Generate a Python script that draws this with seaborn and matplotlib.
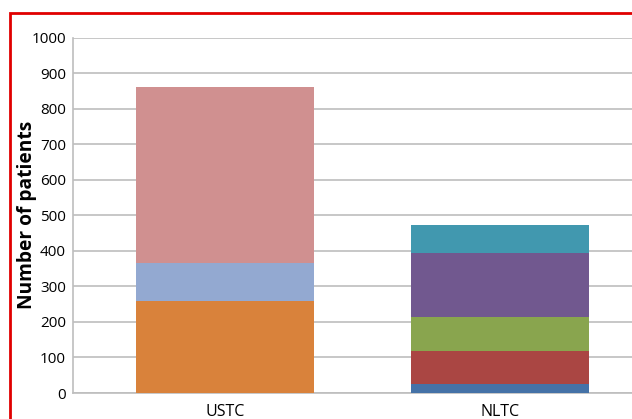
import matplotlib
matplotlib.use('Agg')
import matplotlib.pyplot as plt
import seaborn as sns
from matplotlib.patches import Rectangle

categories = ['USTC', 'NLTC']
ustc_vals = [258, 108, 495]
ustc_colors = ['#D9823B', '#93A9D1', '#D09090']
nltc_vals = [25, 94, 96, 178, 79]
nltc_colors = ['#4572A7', '#AA4643', '#89A54E', '#71588F', '#4198AF']

sns.set_style('white')
plt.rcParams['font.family'] = ['Open Sans', 'DejaVu Sans']

fig = plt.figure(figsize=(6.32, 4.19), dpi=100)
ax = fig.add_axes([73 / 632, 1 - 393 / 419, 1 - 73 / 632, (393 - 37.7) / 419])

# stacked segments, one barplot call per segment
for cat, vals, cols in [('USTC', ustc_vals, ustc_colors), ('NLTC', nltc_vals, nltc_colors)]:
    bottom = 0
    for v, c in zip(vals, cols):
        sns.barplot(x=[cat], y=[v], bottom=bottom, color=c, order=categories,
                    width=0.645, saturation=1, linewidth=0, ax=ax, zorder=3)
        bottom += v

ax.set_ylim(0, 1000)
ax.set_yticks(range(0, 1001, 100))
ax.set_xlim(-0.553, 1.48)
ax.yaxis.grid(True, color='#BEBEBE', linewidth=1.2, zorder=0)
ax.set_axisbelow(True)
for s in ['top', 'right']:
    ax.spines[s].set_visible(False)
for s in ['left', 'bottom']:
    ax.spines[s].set_color('#BEBEBE')
    ax.spines[s].set_linewidth(1.2)
ax.tick_params(axis='y', length=0, labelsize=11, colors='black', pad=5)
ax.tick_params(axis='x', length=0, labelsize=11.5, colors='black', pad=8)
ax.set_xlabel('')
ax.set_ylabel('Number of patients', fontsize=13.8, fontweight='bold', color='black')
ax.yaxis.set_label_coords(-36 / 559, 0.5)

# red frame around the figure
fig.patches.append(Rectangle((10 / 632, -0.1), 1.2, 1 - 13 / 419 + 0.1,
                             transform=fig.transFigure, fill=False,
                             edgecolor='#E00000', linewidth=2))

fig.savefig('out.png', dpi=100)
